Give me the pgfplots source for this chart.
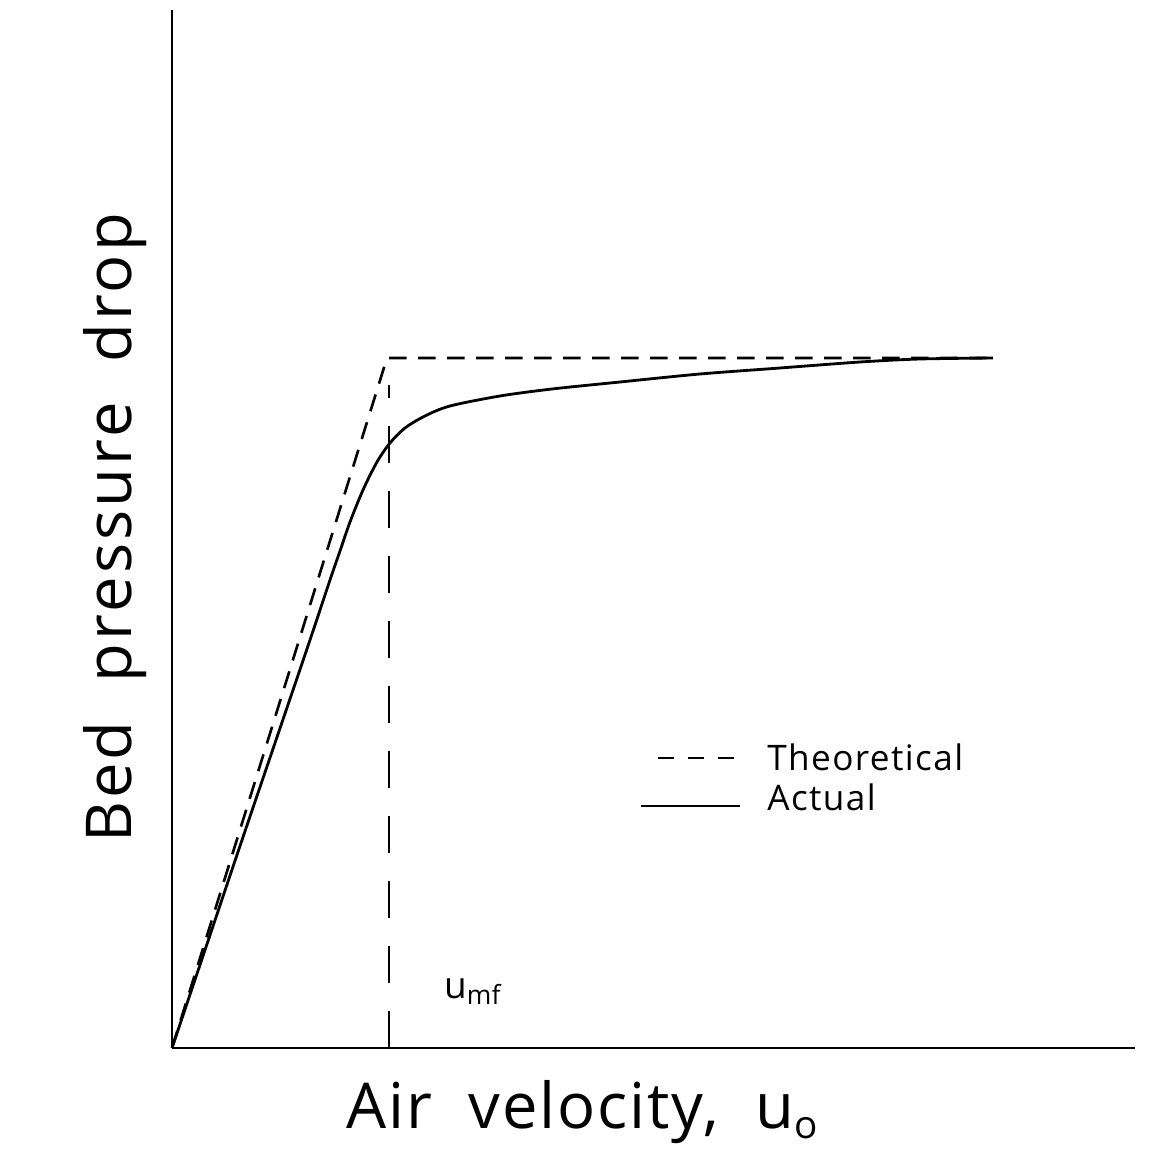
\documentclass[border=0pt]{standalone}
\usepackage{pgfplots}
\pgfplotsset{compat=1.18}
\usepackage{fontspec}
\setmainfont{Open Sans}
\begin{document}
\begin{tikzpicture}
\begin{axis}[
  x=0.2mm, y=0.2mm,
  xmin=172, xmax=1135, ymin=104, ymax=1142,
  axis lines*=left,
  axis line style={line width=1.7pt},
  xtick=\empty, ytick=\empty,
  clip=false,
]
\addplot[black, line width=1.5pt, dash pattern=on 10pt off 6.5pt] coordinates {(172,104) (387,794) (993,794)};
\addplot[black, line width=1.5pt, dash pattern=on 21pt off 16pt] coordinates {(389,104) (389,767)};
\addplot[black, line width=1.6pt, smooth, tension=0.5] coordinates {
(172,104) (205,202) (240,306) (275,409) (310,512) (330,572) (340,601) (350,630) (363,662) (377,690) (390,709) (405,724) (425,736) (450,746) (500,756) (552,763) (620,770) (700,778) (780,784) (860,790) (920,793) (993,794)};
\draw[black, line width=1.5pt, dash pattern=on 9pt off 8pt] (axis cs:658,394) -- (axis cs:740,394);
\draw[black, line width=1.5pt] (axis cs:641,346) -- (axis cs:740,346);
\node[anchor=base west, inner sep=0pt, font=\fontsize{20}{24}\selectfont\addfontfeature{LetterSpace=4}] at (axis cs:767,382) {Theoretical};
\node[anchor=base west, inner sep=0pt, font=\fontsize{20}{24}\selectfont\addfontfeature{LetterSpace=4}] at (axis cs:767,342) {Actual};
\node[anchor=base west, inner sep=0pt, font=\fontsize{21}{24}\selectfont] at (axis cs:444,154) {u\raisebox{-0.35ex}{\fontsize{15}{16}\selectfont mf}};
\node[inner sep=0pt, font=\fontsize{36}{40}\selectfont\addfontfeature{LetterSpace=3}] at (axis cs:582,40) {Air\ \ velocity,\ \ u\raisebox{-0.3ex}{\fontsize{22}{24}\selectfont o}};
\node[inner sep=0pt, rotate=90, font=\fontsize{36}{40}\selectfont\addfontfeature{LetterSpace=5}] at (axis cs:115,624) {Bed\ \ pressure\ \ drop};
\coordinate (bl) at (axis cs:0,0);
\coordinate (tr) at (axis cs:1151,1152);
\end{axis}
\pgfresetboundingbox
\useasboundingbox (bl) rectangle (tr);
\end{tikzpicture}
\end{document}
